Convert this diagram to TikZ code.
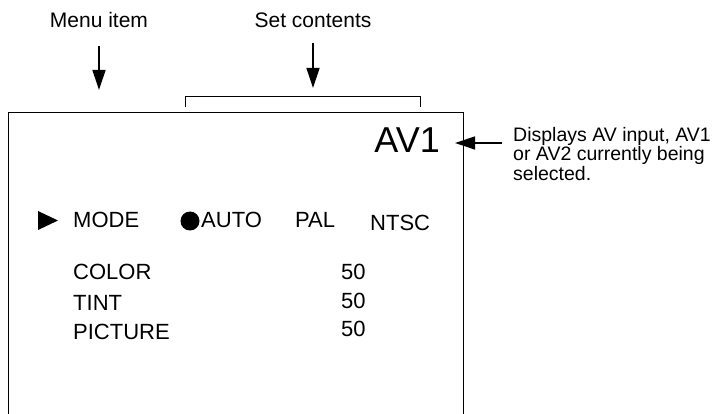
\documentclass[tikz,border=0pt]{standalone}
\usepackage{fontspec}
\setmainfont{Liberation Sans}
\usetikzlibrary{arrows.meta,positioning}

\begin{document}
\begin{tikzpicture}[x=1pt, y=-1pt,
    every node/.style={inner sep=0pt},
    callout/.style={font=\fontsize{21}{24}\selectfont, anchor=base},
    notetext/.style={font={\fontsize{19.5}{19.5}\selectfont\lineskiplimit=-8pt\relax}, align=left, anchor=north west},
    osd/.style={font=\fontsize{22}{26}\selectfont, anchor=base west},
    pointer/.style={-{Triangle[width=13pt,length=20pt]}, line width=1.3pt}]
    \useasboundingbox (0,0) rectangle (728,414);

    % Screen frame, open at the bottom
    \draw[line width=1pt] (8,414) -- (8,113) -- (463,113) -- (463,414);

    % Labels above the screen
    \node[callout] (menu) at (99,28) {Menu item};
    \node[callout] (setc) at (313,28) {Set contents};
    \coordinate (menutip) at (99,90);
    \coordinate (settip) at (313,88);
    \draw[pointer, shorten <=18pt] (menu.base) -- (menutip);
    \draw[pointer, shorten <=15pt] (setc.base) -- (settip);
    \draw[line width=1pt] (185,107) |- (420,97) -- (420,107);

    % Input indicator with its note
    \node[font=\fontsize{36}{40}\selectfont, anchor=base east] (av) at (440,153) {AV1};
    \node[notetext] (note) at (513,127) {Displays AV input, AV1\\or AV2 currently being\\selected.};
    \coordinate (avtip) at (455,143);
    \draw[pointer, shorten <=11pt] ([yshift=-16pt]note.north west) -- (avtip);

    % Menu rows
    \fill (38,211) -- (58,220.5) -- (38,230) -- cycle;
    \node[osd] (mode) at (73,228) {MODE};
    \fill (190,221) circle (9.5);
    \node[osd] (auto) at (201,228) {AUTO};
    \node[osd] (pal) at (295,228) {PAL};
    \node[osd] (ntsc) at (370,230) {NTSC};
    \node[osd] (color) at (73,279) {COLOR};
    \node[osd] (tint) at (73,310) {TINT};
    \node[osd] (pict) at (73,339) {PICTURE};
    \node[osd] (colorval) at (341,279) {50};
    \node[osd] (tintval) at (341,308) {50};
    \node[osd] (pictval) at (341,336) {50};
\end{tikzpicture}
\end{document}
